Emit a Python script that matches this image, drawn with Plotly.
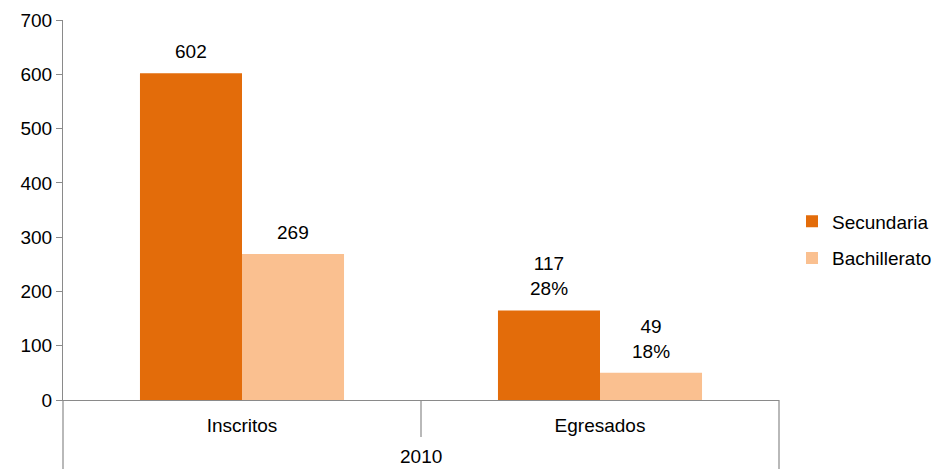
import plotly.graph_objects as go

categories = ["Inscritos", "Egresados"]
group_label = "2010"
series_names = ["Secundaria", "Bachillerato"]
secundaria = [602, 165]
bachillerato = [269, 50]
secundaria_labels = ["602", "117<br>28%"]
bachillerato_labels = ["269", "49<br>18%"]
colors = ["#E36C0A", "#FAC090"]

FONT = "Liberation Sans, Arial, sans-serif"
FS = 19
AXIS_COLOR = "#8A8A8A"

W, H = 935, 469
ML, MR, MT, MB = 63, 156, 20, 69
plot_w = W - ML - MR
plot_h = H - MT - MB
bargap = 0.43
bar_px = plot_w / len(categories) * (1 - bargap) / 2

fig = go.Figure()
all_vals = [secundaria, bachillerato]
all_labels = [secundaria_labels, bachillerato_labels]
for name, vals, col in zip(series_names, all_vals, colors):
    fig.add_trace(go.Bar(x=categories, y=vals, name=name, marker_color=col,
                         marker_line_width=0, legendgroup=name))

annotations = []
for i, (vals, labs) in enumerate(zip(all_vals, all_labels)):
    shift = (i - 0.5) * bar_px
    for c, v, t in zip(categories, vals, labs):
        annotations.append(dict(x=c, y=v, text=t, showarrow=False, xshift=shift,
                                yanchor="bottom", yshift=9,
                                font=dict(family=FONT, size=FS, color="#000")))

annotations.append(dict(x=0.5, y=-69 / plot_h, xref="paper", yref="paper",
                        text=group_label, showarrow=False, yanchor="bottom",
                        font=dict(family=FONT, size=FS, color="#000")))

shapes = [
    dict(type="line", xref="x", yref="paper", x0=0.5, x1=0.5, y0=0, y1=-37 / plot_h,
         line=dict(color=AXIS_COLOR, width=1.2)),
    dict(type="line", xref="paper", yref="paper", x0=0, x1=0, y0=0, y1=-0.25,
         line=dict(color=AXIS_COLOR, width=1.2)),
    dict(type="line", xref="paper", yref="paper", x0=1, x1=1, y0=0, y1=-0.25,
         line=dict(color=AXIS_COLOR, width=1.2)),
]

fig.update_layout(
    width=W, height=H,
    margin=dict(l=ML, r=MR, t=MT, b=MB, autoexpand=False),
    plot_bgcolor="white", paper_bgcolor="white",
    barmode="group", bargap=bargap, bargroupgap=0,
    font=dict(family=FONT, size=FS, color="#000"),
    xaxis=dict(type="category", showline=True, linecolor=AXIS_COLOR, linewidth=1.2,
               ticks="outside", ticklen=8, tickcolor="rgba(0,0,0,0)", automargin=False,
               showgrid=False, tickfont=dict(size=FS), range=[-0.5, 1.5]),
    yaxis=dict(range=[0, 700], dtick=100, showline=True, linecolor=AXIS_COLOR, linewidth=1.2,
               ticks="outside", ticklen=6, tickcolor=AXIS_COLOR, tickwidth=1.2, automargin=False,
               showgrid=False, zeroline=False, tickfont=dict(size=FS)),
    legend=dict(x=(792 - ML) / plot_w, xanchor="left", y=(400 - 240) / plot_h, yanchor="middle",
                font=dict(size=FS), tracegroupgap=9, traceorder="grouped"),
    annotations=annotations,
    shapes=shapes,
)

fig.write_html("out.html", config={"displayModeBar": False},
               post_script="document.body.style.margin='0';document.body.style.overflow='hidden';")
